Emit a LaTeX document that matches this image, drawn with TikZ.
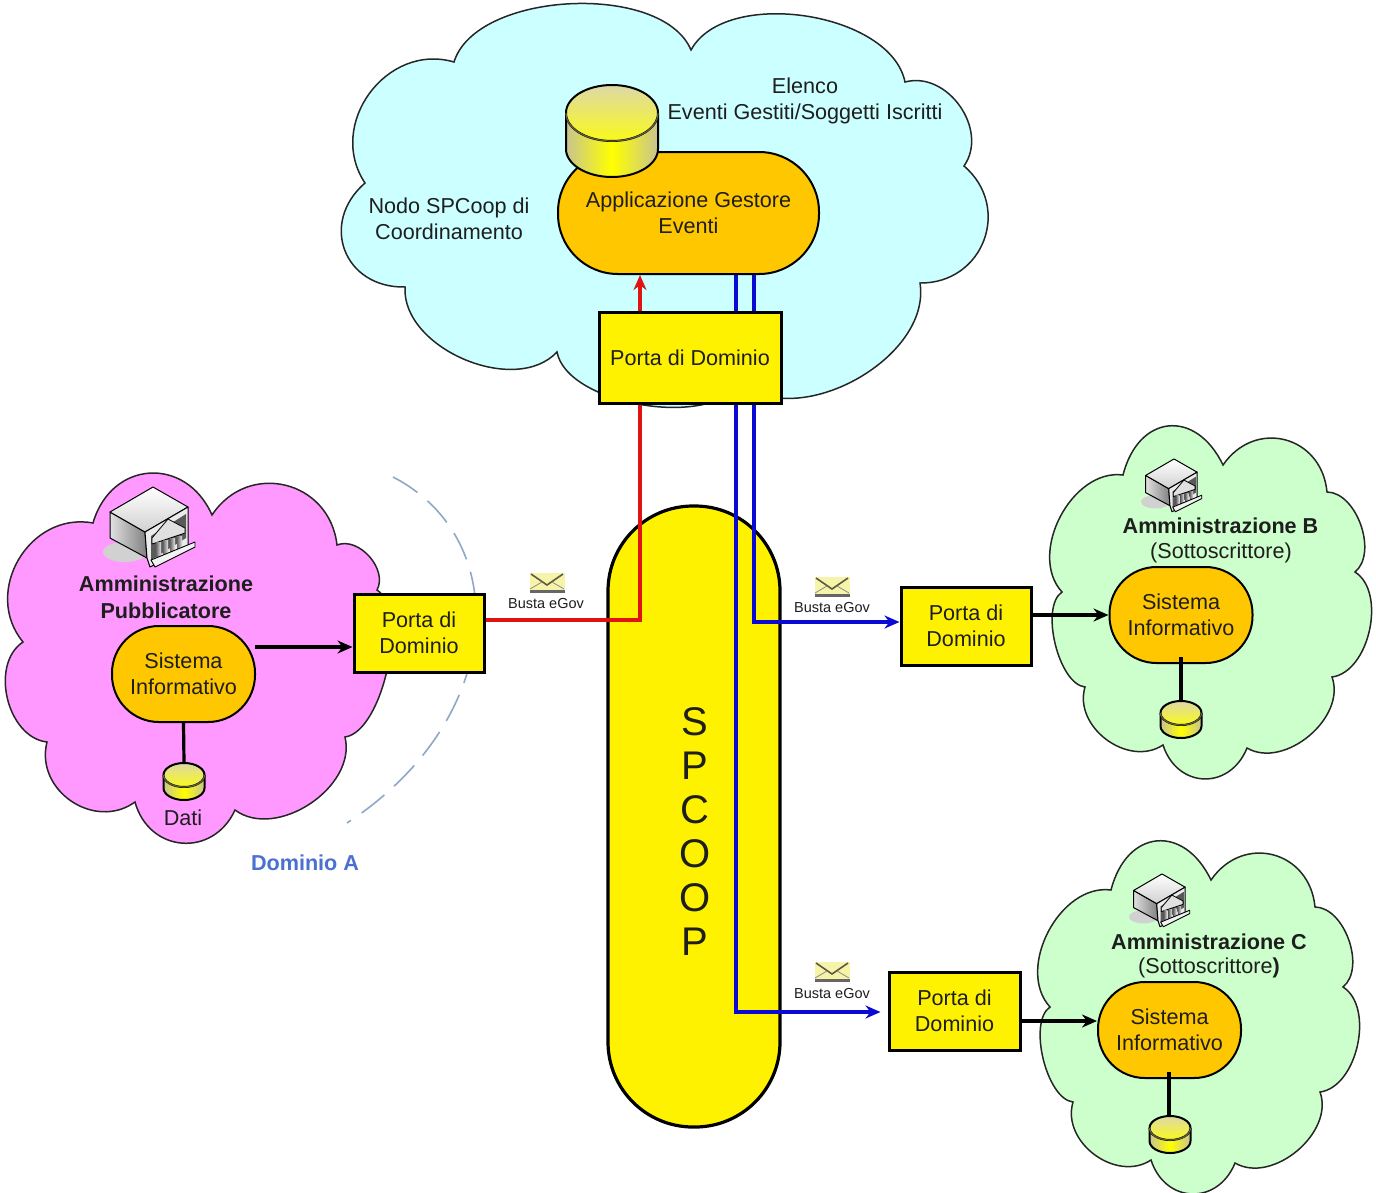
\documentclass[tikz,border=0pt]{standalone}
\usepackage{fontspec}
\setmainfont{Liberation Sans}
\usetikzlibrary{arrows.meta,calc}
\definecolor{cloudpink}{HTML}{FF99FF}
\definecolor{cloudcyan}{HTML}{CCFFFF}
\definecolor{cloudgreen}{HTML}{CCFFCC}
\definecolor{apporange}{HTML}{FFC700}
\definecolor{inktext}{HTML}{1E1E1E}
\definecolor{redline}{HTML}{E01212}
\definecolor{blueline}{HTML}{0A0AD2}
\definecolor{dashblue}{HTML}{8FA8C8}
\definecolor{domblue}{HTML}{4A70D0}
\definecolor{cyltan}{HTML}{C8C490}
\definecolor{cyltop}{HTML}{DDD9A8}
\tikzset{
  cloudshape/.style={draw=black!85,line width=1.5pt,line join=miter},
  L/.style={bend left=70,looseness=#1},
  txt/.style={text=inktext,align=center,inner sep=0pt,font=\fontsize{21.6}{26.5}\selectfont},
  txtb/.style={txt,font=\fontsize{21.6}{26.5}\selectfont\bfseries},
  small/.style={text=inktext,align=center,inner sep=0pt,font=\fontsize{14.5}{17}\selectfont},
  portabox/.style={txt,draw=black,fill=yellow,line width=3pt},
  appbox/.style={txt,draw=black,fill=apporange,line width=2pt},
  arrowk/.style={line width=3.2pt,draw=black,-{Stealth[length=15pt,width=13pt]}},
  linek/.style={line width=3.2pt,draw=black},
  redl/.style={line width=3.2pt,draw=redline},
  bluel/.style={line width=3.2pt,draw=blueline},
}
% name, centre x, y of top ellipse centre, rx, ry, body height
\newcommand\dbcyl[6]{%
  \coordinate (#1) at (#2,#3-#5);
  \path[shade,left color=cyltan,right color=cyltan,middle color=yellow]
    (#2-#4,#3) -- (#2-#4,#3+#6) arc[start angle=180,end angle=360,x radius=#4,y radius=-#5]
    -- (#2+#4,#3) -- cycle;
  \draw[line width=2pt] (#2-#4,#3) -- (#2-#4,#3+#6) arc[start angle=180,end angle=360,x radius=#4,y radius=-#5] -- (#2+#4,#3);
  \draw[top color=cyltop,bottom color=yellow!85!cyltop,line width=2pt] (#2,#3) ellipse[x radius=#4,y radius=#5];
  \draw[line width=1.2pt,draw=black!70!yellow] (#2-#4,#3) arc[start angle=180,end angle=360,x radius=#4,y radius=-#5];
}
% name, x, y
\newcommand\envelope[3]{%
  \node[minimum width=35pt,minimum height=20pt,inner sep=0pt,fill=black!60,anchor=center] (#1) at (#2,#3) {};
  \fill[black!10!yellow!35!white] (#2-17.5,#3-10) rectangle (#2+17.5,#3+7);
  \draw[line width=1.6pt,draw=black!55!yellow!60!black] (#2-16,#3-9) -- (#2,#3+2) -- (#2+16,#3-9);
  \draw[line width=.8pt,draw=black!45] (#2-17,#3+6) -- (#2-5,#3-1) (#2+17,#3+6) -- (#2+5,#3-1);
}
% x, y, scale
\newcommand\bank[3]{%
  \begin{scope}[shift={(#1,#2)},scale=#3]
    \fill[black!18] (-25,24) ellipse[x radius=22,y radius=10];
    \draw[left color=black!12,right color=black!50,line width=1pt,line join=round] (-40,-16) -- (-5,4) -- (-3,30) -- (-40,10) -- cycle;
    \draw[top color=white,bottom color=black!18,line width=1pt,line join=round] (-40,-16) -- (3,-41) -- (38,-21) -- (-5,4) -- cycle;
    \draw[fill=black!8,line width=1pt,line join=round] (-5,4) -- (38,-21) -- (38,19) -- (0,39) -- (-3,30) -- cycle;
    \fill[black!65] (1,8) -- (36,-14) -- (36,10) -- (1,32) -- cycle;
    \draw[fill=black!12,line width=.8pt,line join=round] (2,10) -- (18,-9) -- (35,0) -- (35,5) -- (2,16) -- cycle;
    \foreach \cx in {6,13,20,27}{
      \fill[left color=black!60,right color=black!10] (\cx,{16-(\cx-2)*.3}) rectangle (\cx+5,{36-(\cx-2)*.45});
    }
    \draw[fill=black!5,line width=.9pt,line join=round] (1,32) -- (45,14) -- (45,19) -- (5,39) -- cycle;
  \end{scope}
}
\begin{document}
\begin{tikzpicture}[x=1pt,y=-1pt]
\clip (0,0) rectangle (1376,1192);
\fill[white] (0,0) rectangle (1376,1192);

% --- clouds ---
\draw[cloudshape,fill=cloudcyan]
  (691,50) to[L=.85] (905,82) to[L=1.1] (964,166) to[L=1.3] (920,283)
  to[L=.95] (740,382) to[L=.75] (557,352) to[L=.95] (405,287) to[L=1.4] (365,183)
  to[L=1.2] (454,62) to[L=.8] (691,50) -- cycle;
\draw[cloudshape,fill=cloudpink]
  (212,515) to[L=1.3] (337,545) to[L=1.0] (377,590) to[L=.65] (345,737)
  to[L=1.0] (235,810) to[L=1.35] (135,802) to[L=1.2] (47,742) to[L=1.0] (23,642)
  to[L=1.2] (93,523) to[L=1.4] (212,515) -- cycle;
\foreach \sx/\sy in {0/0,-12/415}{
  \begin{scope}[shift={(\sx,\sy)}]
  \draw[cloudshape,fill=cloudgreen]
    (1223,465) to[L=1.35] (1327,492) to[L=.9] (1355,572) to[L=.9] (1332,677)
    to[L=1.0] (1247,748) to[L=1.4] (1163,745) to[L=1.1] (1085,687) to[L=.7] (1062,592)
    to[L=1.0] (1123,475) to[L=1.6] (1223,465) -- cycle;
  \end{scope}
}

% --- dashed domain boundary ---
\coordinate (domS) at (393,477);
\coordinate (domE) at (347,823);
\draw[dashblue,line width=1.6pt,dash pattern=on 29pt off 13pt]
  (domS) .. controls (515,540) and (505,720) .. (domE);

% --- SPCOOP ---
\node[draw=black,fill=yellow,line width=3.2pt,minimum width=172pt,minimum height=621pt,
      rounded corners=85pt,inner sep=0pt] (spcoop) at (694,816.5) {};
\node[text=inktext,align=center,inner sep=0pt,font=\fontsize{40}{44}\selectfont] (spcooplabel) at (695,832) {S\\P\\C\\O\\O\\P};

% --- main boxes (text nodes drawn later over lines) ---
\node[appbox,minimum width=261pt,minimum height=122pt,rounded corners=60pt] (gest) at (688.5,213) {Applicazione Gestore\\Eventi};

\coordinate (redturn) at (640,620);
\coordinate (blueB) at (754,622);
\coordinate (blueC) at (736,1012);

\node[portabox,minimum width=130pt,minimum height=78pt] (pa) at (419,633) {Porta di\\Dominio};
\node[portabox,minimum width=130pt,minimum height=78pt] (pb) at (966,626) {Porta di\\Dominio};
\node[portabox,minimum width=131pt,minimum height=78pt] (pc) at (954.5,1011) {Porta di\\Dominio};

% --- coloured routes ---
\draw[redl] (redturn -| pa.east) -- (redturn) -- (redturn |- 0,310);
\draw[redl,-{Stealth[length=15pt,width=13pt]}] (redturn |- 0,320) -- (redturn |- gest.south);
\draw[bluel,-{Stealth[length=15pt,width=13pt]}] (blueB |- gest.south) -- (blueB) -- (blueB -| pb.west);
\draw[bluel,-{Stealth[length=15pt,width=13pt]},shorten >=7pt] (blueC |- gest.south) -- (blueC) -- (blueC -| pc.west);

\node[portabox,minimum width=182pt,minimum height=91pt] (pd) at (690,357.5) {Porta di Dominio};

% --- Sistema Informativo nodes ---
\node[appbox,minimum width=143pt,minimum height=96pt,rounded corners=47pt] (sa) at (183.5,674) {Sistema\\Informativo};
\node[appbox,minimum width=143pt,minimum height=96pt,rounded corners=47pt] (sb) at (1181,615) {Sistema\\Informativo};
\node[appbox,minimum width=143pt,minimum height=96pt,rounded corners=47pt] (sc) at (1169.5,1030) {Sistema\\Informativo};

\draw[arrowk] (255,647) -- (255,647 -| pa.west);
\draw[arrowk] (pb.east |- sb.west) -- (sb.west);
\draw[arrowk] (pc.east |- 0,1021) -- (sc.west |- 0,1021);

% --- database cylinders ---
\draw[linek] (sa.south) -- (184,762);
\draw[linek] (1181,657) -- (1181,705);
\draw[linek] (1169,1072) -- (1169,1120);
\dbcyl{dbtop}{612}{113}{46}{28}{36}
\dbcyl{dba}{184}{775}{20.5}{12}{13}
\dbcyl{dbb}{1181}{713}{20.5}{12}{13}
\dbcyl{dbc}{1170}{1128}{20.5}{12}{13}

% --- building icons ---
\bank{150}{528}{1}
\bank{1172}{486}{.66}
\bank{1160}{901}{.66}

% --- envelopes ---
\envelope{enva}{547}{583}
\envelope{envb}{832}{587}
\envelope{envc}{832}{972}
\node[small] (busa) at (546,603.5) {Busta eGov};
\node[small] (busb) at (832,607.5) {Busta eGov};
\node[small] (busc) at (832,993.5) {Busta eGov};

% --- free labels ---
\node[txt] (elenco) at (805,101) {Elenco\\Eventi Gestiti/Soggetti Iscritti};
\node[txt] (nodo) at (449,219) {Nodo SPCoop di\\Coordinamento};
\node[txtb] (ammp) at (166,597.5) {Amministrazione\\Pubblicatore};
\node[txt] (dati) at (183,818) {Dati};
\node[txtb] (domA) at (305,863) {\textcolor{domblue}{Dominio A}};
\node[txtb] (ammb) at (1220.5,526) {Amministrazione B};
\node[txt] (sotb) at (1221,553) {(Sottoscrittore)};
\node[txtb] (ammc) at (1209,942) {Amministrazione C};
\node[txt] (sotc) at (1209,968) {(Sottoscrittore\textbf{)}};
\end{tikzpicture}
\end{document}
